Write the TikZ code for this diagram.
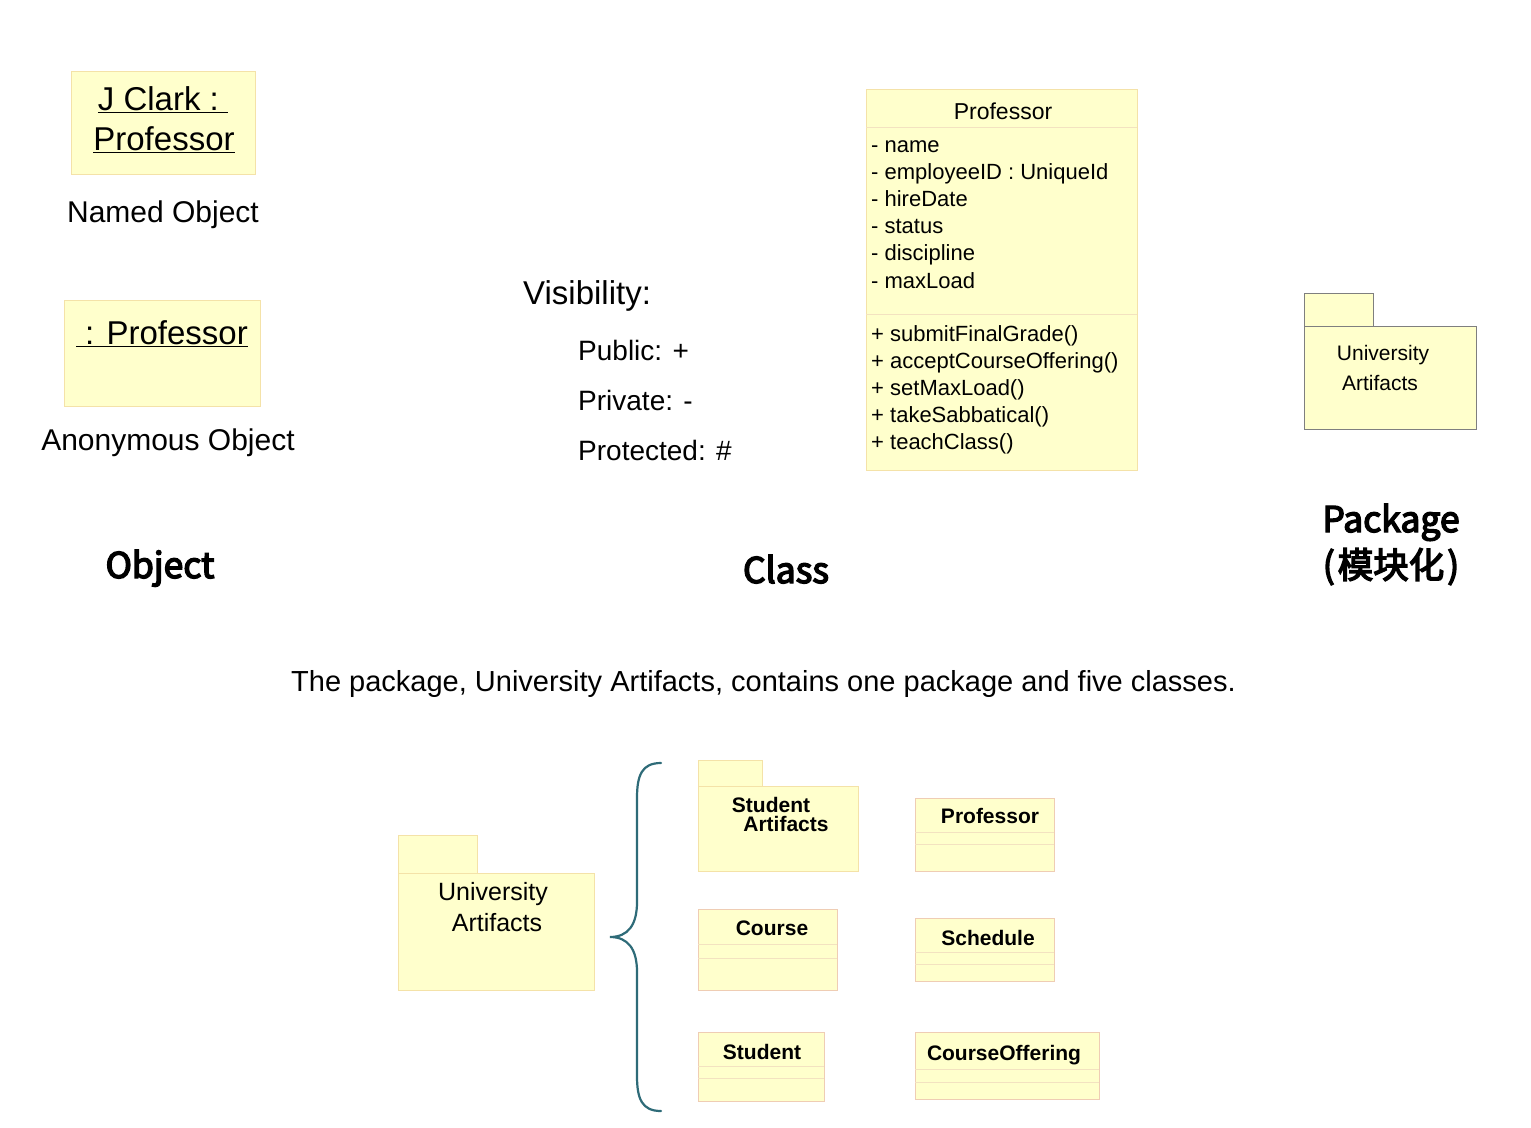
\documentclass[tikz,border=0pt]{standalone}
\usepackage{fontspec}
\setmainfont{Liberation Sans}
\newfontfamily\cjk[FakeBold=4]{Noto Sans CJK SC}
\definecolor{yfill}{HTML}{FFFFCC}
\definecolor{yedge}{HTML}{F4E2A8}
\definecolor{cedge}{HTML}{EFCDB4}
\definecolor{sepc}{HTML}{F3E2C0}
\definecolor{pgray}{HTML}{7F7F7F}
\definecolor{teal}{HTML}{2E6B78}
\tikzset{
  box/.style={fill=yfill, draw=yedge, line width=1pt, inner sep=0pt, anchor=north west},
  cbox/.style={fill=yfill, draw=cedge, line width=1pt, inner sep=0pt, anchor=north west},
  gbox/.style={fill=yfill, draw=pgray, line width=0.8pt, inner sep=0pt, anchor=north west},
  sepline/.style={draw=sepc, line width=1pt},
  txt/.style={inner sep=0pt, anchor=base},
  big/.style={txt, font=\fontsize{33}{40}\selectfont},
  lab/.style={txt, font=\fontsize{30}{36}\selectfont},
  vis/.style={txt, anchor=base west, font=\fontsize{28}{34}\selectfont},
  attr/.style={txt, anchor=base west, font=\fontsize{22}{27}\selectfont},
  head/.style={txt, font=\cjk\fontsize{35.5}{42}\selectfont},
  btitle/.style={txt, font=\bfseries\fontsize{21}{24}\selectfont},
}
\begin{document}
\begin{tikzpicture}[x=1pt,y=-1pt]
\useasboundingbox (0,0) rectangle (1531,1127);
\fill[white] (0,0) rectangle (1531,1127);

% ---- Objects
\node[box, minimum width=184pt, minimum height=103pt] (jc) at (71,71) {};
\node[big] (jc1) at (163,110) {\underline{J Clark :\ }};
\node[big] (jc2) at (164,150) {\underline{Professor}};
\node[lab] (named) at (163,222) {Named Object};

\node[box, minimum width=196pt, minimum height=106pt] (anon) at (64,300) {};
\node[big] (anon1) at (162,344) {\underline{\hspace{9pt}: Professor}};
\node[lab] (anonl) at (168,450) {Anonymous Object};

\node[head] (objh) at (160,578) {Object};

% ---- Visibility
\node[txt, anchor=base west, font=\fontsize{33}{40}\selectfont] (visib) at (523,304) {Visibility:};
\node[vis] (pub) at (578,360) {Public: +};
\node[vis] (pri) at (578,410) {Private: -};
\node[vis] (pro) at (578,460) {Protected: \#};

% ---- Professor class
\node[box, minimum width=271pt, minimum height=381pt] (prof) at (866,89) {};
\draw[sepline] (866,127) -- (1137,127);
\draw[sepline] (866,314) -- (1137,314);
\node[txt, font=\fontsize{23}{27}\selectfont] (proft) at (1003,119.5) {Professor};
\foreach \t [count=\i] in {- name,- employeeID : UniqueId,- hireDate,- status,- discipline,- maxLoad}
  \node[attr] (at\i) at (871,{152+27.2*(\i-1)}) {\t};
\foreach \t [count=\i] in {+ submitFinalGrade(),+ acceptCourseOffering(),+ setMaxLoad(),+ takeSabbatical(),+ teachClass()}
  \node[attr] (op\i) at (871,{341+27*(\i-1)}) {\t};
\node[head] (classh) at (786,583) {Class};

% ---- Package (top right)
\node[gbox, minimum width=69pt, minimum height=33pt] (ptab) at (1304,293) {};
\node[gbox, minimum width=172pt, minimum height=103pt] (pbody) at (1304,326) {};
\node[txt, font=\fontsize{21}{25}\selectfont] (pu) at (1383,360) {University};
\node[txt, font=\fontsize{21}{25}\selectfont] (pa) at (1380,390) {Artifacts};
\node[head] (pkgh1) at (1391,532) {Package};
\node[head] (pkgh2) at (1391,578) {(\kern3pt 模块化\kern3pt)};

% ---- Caption
\node[txt, font=\fontsize{29}{34}\selectfont] (cap) at (763.5,691) {The package, University Artifacts, contains one package and five classes.};

% ---- Bottom: University Artifacts package
\node[box, minimum width=79pt, minimum height=38pt] (utab) at (398,835) {};
\node[box, minimum width=196pt, minimum height=117pt] (ubody) at (398,873) {};
\node[txt, font=\fontsize{25}{30}\selectfont] (uu) at (493,900) {University};
\node[txt, font=\fontsize{25}{30}\selectfont] (ua) at (497,931) {Artifacts};

% brace
\coordinate (bt) at (661,763);
\coordinate (bm) at (610,937);
\coordinate (bb) at (661,1111);
\draw[teal, line width=2.2pt, line cap=round]
  (bt) .. controls (642,763) and (637,775) .. (637,798)
  -- (637,902) .. controls (637,925) and (628,937) .. (bm)
  .. controls (628,937) and (637,949) .. (637,972)
  -- (637,1076) .. controls (637,1099) and (642,1111) .. (bb);

% Student Artifacts package
\node[box, minimum width=64pt, minimum height=26pt] (stab) at (698,760) {};
\node[box, minimum width=160pt, minimum height=85pt] (sbody) at (698,786) {};
\node[btitle] (sa1) at (771,812.5) {Student};
\node[btitle] (sa2) at (786,831.5) {Artifacts};

% Course
\node[cbox, minimum width=139pt, minimum height=81pt] (course) at (698,909) {};
\draw[sepline] (698,944) -- (837,944);
\draw[sepline] (698,958) -- (837,958);
\node[btitle] (courset) at (772,935.5) {Course};

% Student
\node[cbox, minimum width=126pt, minimum height=69pt] (student) at (698,1032) {};
\draw[sepline] (698,1066) -- (824,1066);
\draw[sepline] (698,1078) -- (824,1078);
\node[btitle] (studentt) at (762,1059.5) {Student};

% Professor (small)
\node[cbox, minimum width=139pt, minimum height=73pt] (sprof) at (915,798) {};
\draw[sepline] (915,832) -- (1054,832);
\draw[sepline] (915,844) -- (1054,844);
\node[btitle] (sproft) at (990,823.5) {Professor};

% Schedule
\node[cbox, minimum width=139pt, minimum height=63pt] (sched) at (915,918) {};
\draw[sepline] (915,952) -- (1054,952);
\draw[sepline] (915,964) -- (1054,964);
\node[btitle] (schedt) at (988,945.5) {Schedule};

% CourseOffering
\node[cbox, minimum width=184pt, minimum height=67pt] (coff) at (915,1032) {};
\draw[sepline] (915,1069) -- (1099,1069);
\draw[sepline] (915,1082) -- (1099,1082);
\node[btitle] (cofft) at (1004,1060.5) {CourseOffering};
\end{tikzpicture}
\end{document}
